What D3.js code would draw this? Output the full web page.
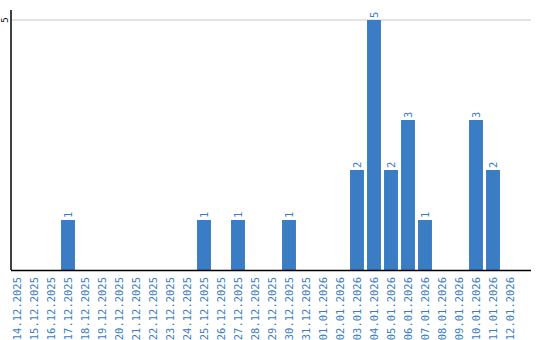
<!DOCTYPE html>
<html>
<head>
<meta charset="utf-8">
<script src="https://cdn.jsdelivr.net/npm/d3@7"></script>
<style>
  body { margin: 0; background: #fff; }
  svg { display: block; }
  text { font-family: "DejaVu Sans Mono", monospace; }
</style>
</head>
<body>
<div id="chart"></div>
<script>
var dates = ["14.12.2025","15.12.2025","16.12.2025","17.12.2025","18.12.2025","19.12.2025",
  "20.12.2025","21.12.2025","22.12.2025","23.12.2025","24.12.2025","25.12.2025","26.12.2025",
  "27.12.2025","28.12.2025","29.12.2025","30.12.2025","31.12.2025","01.01.2026","02.01.2026",
  "03.01.2026","04.01.2026","05.01.2026","06.01.2026","07.01.2026","08.01.2026","09.01.2026",
  "10.01.2026","11.01.2026","12.01.2026"];
var counts = [0,0,0,1,0,0,0,0,0,0,0,1,0,1,0,0,1,0,0,0,2,5,2,3,1,0,0,3,2,0];
var yTicks = [5];

var width = 540, height = 340;
var blue = "#3b7dc4";

var svg = d3.select("#chart").append("svg")
  .attr("width", width).attr("height", height);

var x = d3.scaleBand().domain(dates).range([8.5, 518.5]).paddingInner(0.18).paddingOuter(0.09);
var y = d3.scaleLinear().domain([0, 5]).range([270, 20]);

// gridline
svg.selectAll(".grid").data(yTicks).enter().append("line")
  .attr("x1", 11).attr("x2", 531)
  .attr("y1", d => y(d)).attr("y2", d => y(d))
  .attr("stroke", "#c8c8c8").attr("stroke-width", 1);

// bars
var data = dates.map((d, i) => ({date: d, v: counts[i]})).filter(d => d.v > 0);
svg.selectAll("rect").data(data).enter().append("rect")
  .attr("x", d => x(d.date))
  .attr("y", d => y(d.v))
  .attr("width", x.bandwidth())
  .attr("height", d => y(0) - y(d.v))
  .attr("fill", blue);

// value labels
svg.selectAll(".val").data(data).enter().append("text")
  .attr("transform", d => "translate(" + (x(d.date) + x.bandwidth() / 2 + 4) + "," + (y(d.v) - 2) + ") rotate(-90)")
  .attr("fill", blue).attr("font-size", "10.5px")
  .text(d => d.v);

// y axis line and tick label
svg.append("line").attr("x1", 11).attr("x2", 11).attr("y1", 10).attr("y2", 270)
  .attr("stroke", "#000").attr("stroke-width", 1.5);
svg.selectAll(".ytick").data(yTicks).enter().append("text")
  .attr("transform", d => "translate(8," + y(d) + ") rotate(-90)")
  .attr("text-anchor", "middle").attr("font-size", "9px").attr("fill", "#000")
  .text(d => d);

// x baseline
svg.append("line").attr("x1", 11).attr("x2", 531).attr("y1", 270.5).attr("y2", 270.5)
  .attr("stroke", "#000").attr("stroke-width", 1.5);

// x labels
svg.selectAll(".xl").data(dates).enter().append("text")
  .attr("transform", d => "translate(" + (x(d) + x.bandwidth() / 2 + 4) + ",277) rotate(-90)")
  .attr("text-anchor", "end").attr("font-size", "10.5px").attr("fill", blue)
  .text(d => d);
</script>
</body>
</html>
